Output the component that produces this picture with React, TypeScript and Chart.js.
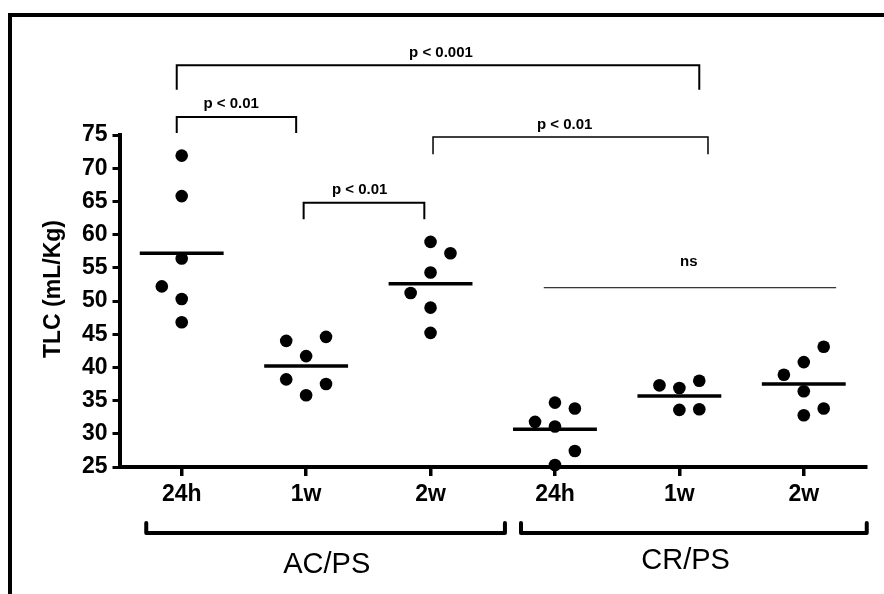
import React, { useEffect, useRef } from 'react';
import { Chart, registerables } from 'chart.js';

Chart.register(...registerables);

const FONT = "'Liberation Sans', Arial, Helvetica, sans-serif";

// Category (time point) labels along the x axis
const categories = ['24h', '1w', '2w', '24h', '1w', '2w'];
// Group labels under the brackets
const groupNames = ['AC/PS', 'CR/PS'];
const groupFrom = [-0.285, 2.727];
const groupTo = [2.598, 5.506];
const groupLabelAt = [1.166, 4.05];

// Y axis
const yMin = 25;
const yMax = 75;
const yStep = 5;
const yTitle = 'TLC (mL/Kg)';

// Individual values (mL/Kg) per group, with horizontal jitter (category units)
const acPs24h = [71.9, 65.8, 56.4, 52.2, 50.3, 46.8];
const acPs24hJitter = [0, 0, 0, -0.16, 0, 0];
const acPs1w = [44.0, 44.6, 41.7, 38.2, 37.5, 35.8];
const acPs1wJitter = [-0.16, 0.16, 0, -0.16, 0.16, 0];
const acPs2w = [58.9, 57.2, 54.3, 51.2, 49.0, 45.2];
const acPs2wJitter = [0, 0.16, 0, -0.16, 0, 0];
const crPs24h = [34.7, 33.8, 31.8, 31.1, 27.4, 25.3];
const crPs24hJitter = [0, 0.16, -0.16, 0, 0.16, 0];
const crPs1w = [37.3, 36.9, 38.0, 33.6, 33.7];
const crPs1wJitter = [-0.16, 0, 0.16, 0, 0.16];
const crPs2w = [43.1, 40.8, 38.9, 36.4, 33.8, 32.8];
const crPs2wJitter = [0.16, 0, -0.16, 0, 0.16, 0];

const groupValues = [acPs24h, acPs1w, acPs2w, crPs24h, crPs1w, crPs2w];
const groupJitter = [acPs24hJitter, acPs1wJitter, acPs2wJitter, crPs24hJitter, crPs1wJitter, crPs2wJitter];

// Group means (horizontal bars)
const means = [57.2, 40.2, 52.6, 30.7, 35.7, 37.5];
const meanHalfWidth = 0.337;

// Significance comparisons
const compLabels = ['p < 0.001', 'p < 0.01', 'p < 0.01', 'p < 0.01', 'ns'];
const compFrom = [-0.04, -0.04, 0.98, 2.02, 2.91];
const compTo = [4.16, 0.92, 1.95, 4.23, 5.26];
const compLevel = [85.5, 77.7, 64.8, 74.7, 52.0];
const compDrop: (number | null)[] = [81.8, 75.3, 62.3, 72.1, null];
const compLabelAt = [2.084, 0.398, 1.43, 3.078, 4.076];
const compGap = [8, 9, 9, 8, 22];
const compWidth = [2, 2, 2, 1.5, 1];

const annotationPlugin = {
  id: 'prismAnnotations',
  afterDraw(chart: any) {
    const { ctx, chartArea } = chart;
    const x = chart.scales.x;
    const y = chart.scales.y;
    ctx.save();
    ctx.fillStyle = '#000';
    ctx.strokeStyle = '#000';

    // comparison brackets
    for (let i = 0; i < compLabels.length; i++) {
      const px0 = x.getPixelForValue(compFrom[i]);
      const px1 = x.getPixelForValue(compTo[i]);
      const py = y.getPixelForValue(compLevel[i]);
      ctx.lineWidth = compWidth[i];
      ctx.lineCap = 'butt';
      ctx.lineJoin = 'miter';
      ctx.beginPath();
      const d = compDrop[i];
      if (d !== null) {
        const pd = y.getPixelForValue(d);
        ctx.moveTo(px0, pd);
        ctx.lineTo(px0, py);
        ctx.lineTo(px1, py);
        ctx.lineTo(px1, pd);
      } else {
        ctx.moveTo(px0, py);
        ctx.lineTo(px1, py);
      }
      ctx.stroke();
      ctx.font = `bold 15px ${FONT}`;
      ctx.textAlign = 'center';
      ctx.textBaseline = 'alphabetic';
      ctx.fillText(compLabels[i], x.getPixelForValue(compLabelAt[i]), py - compGap[i]);
    }

    // group brackets under the axis
    const by = chartArea.bottom + 66;
    ctx.lineWidth = 4;
    ctx.lineCap = 'round';
    ctx.lineJoin = 'round';
    for (let g = 0; g < groupNames.length; g++) {
      const gx0 = x.getPixelForValue(groupFrom[g]);
      const gx1 = x.getPixelForValue(groupTo[g]);
      ctx.beginPath();
      ctx.moveTo(gx0, by - 10);
      ctx.lineTo(gx0, by);
      ctx.lineTo(gx1, by);
      ctx.lineTo(gx1, by - 10);
      ctx.stroke();
      ctx.font = `29px ${FONT}`;
      ctx.textAlign = 'center';
      ctx.textBaseline = 'alphabetic';
      ctx.fillText(groupNames[g], x.getPixelForValue(groupLabelAt[g]), chartArea.bottom + (g === 0 ? 105.5 : 101.5));
    }

    // y axis title
    ctx.save();
    ctx.translate(60, (chartArea.top + chartArea.bottom) / 2 - 12);
    ctx.rotate(-Math.PI / 2);
    ctx.font = `bold 23px ${FONT}`;
    ctx.textAlign = 'center';
    ctx.textBaseline = 'alphabetic';
    ctx.fillText(yTitle, 0, 0);
    ctx.restore();

    ctx.restore();
  },
};

export default function App() {
  const canvasRef = useRef<HTMLCanvasElement | null>(null);

  useEffect(() => {
    const canvas = canvasRef.current;
    if (!canvas) return;

    const datasets: any[] = [];
    groupValues.forEach((vals, gi) => {
      datasets.push({
        type: 'scatter',
        data: vals.map((v, k) => ({ x: gi + groupJitter[gi][k], y: v })),
        backgroundColor: '#000',
        borderColor: '#000',
        borderWidth: 0,
        pointRadius: 6.3,
        pointHoverRadius: 6.3,
        clip: false,
      });
    });
    means.forEach((m, gi) => {
      datasets.push({
        type: 'line',
        data: [
          { x: gi - meanHalfWidth, y: m },
          { x: gi + meanHalfWidth, y: m },
        ],
        borderColor: '#000',
        borderWidth: 3.5,
        pointRadius: 0,
        fill: false,
        showLine: true,
        clip: false,
      });
    });

    const tickFont = { family: FONT, size: 23, weight: 'bold' as const };

    const chart = new Chart(canvas, {
      type: 'scatter',
      data: { datasets },
      options: {
        animation: false,
        responsive: false,
        devicePixelRatio: 1,
        events: [],
        layout: { padding: { top: 135, right: 18, left: 0, bottom: 0 } },
        plugins: { legend: { display: false }, tooltip: { enabled: false } },
        scales: {
          x: {
            type: 'linear',
            min: -0.5,
            max: 5.5,
            afterBuildTicks: (s: any) => {
              s.ticks = categories.map((_, i) => ({ value: i }));
            },
            afterFit: (s: any) => {
              s.height = 127;
            },
            ticks: {
              autoSkip: false,
              maxRotation: 0,
              padding: 5,
              color: '#000',
              font: tickFont,
              callback: (v: any) => categories[v as number] ?? '',
            },
            grid: {
              drawOnChartArea: false,
              tickLength: 9,
              tickWidth: 3.5,
              tickColor: '#000',
              lineWidth: 3.5,
              color: '#000',
            },
            border: { display: true, width: 4, color: '#000' },
          },
          y: {
            type: 'linear',
            min: yMin,
            max: yMax,
            afterFit: (s: any) => {
              s.width = 119.5;
            },
            ticks: {
              stepSize: yStep,
              padding: 5,
              color: '#000',
              font: tickFont,
            },
            grid: {
              drawOnChartArea: false,
              tickLength: 7,
              tickWidth: 3,
              tickColor: '#000',
              lineWidth: 3,
              color: '#000',
            },
            border: { display: true, width: 4, color: '#000' },
          },
        },
      } as any,
      plugins: [annotationPlugin],
    });

    return () => chart.destroy();
  }, []);

  return (
    <>
      <div
        style={{
          position: 'fixed',
          left: 8,
          top: 13,
          width: 1000,
          height: 1000,
          borderTop: '4px solid #000',
          borderLeft: '4px solid #000',
        }}
      />
      <canvas
        ref={canvasRef}
        width={884}
        height={594}
        style={{ position: 'fixed', left: 0, top: 0, width: 884, height: 594 }}
      />
    </>
  );
}
